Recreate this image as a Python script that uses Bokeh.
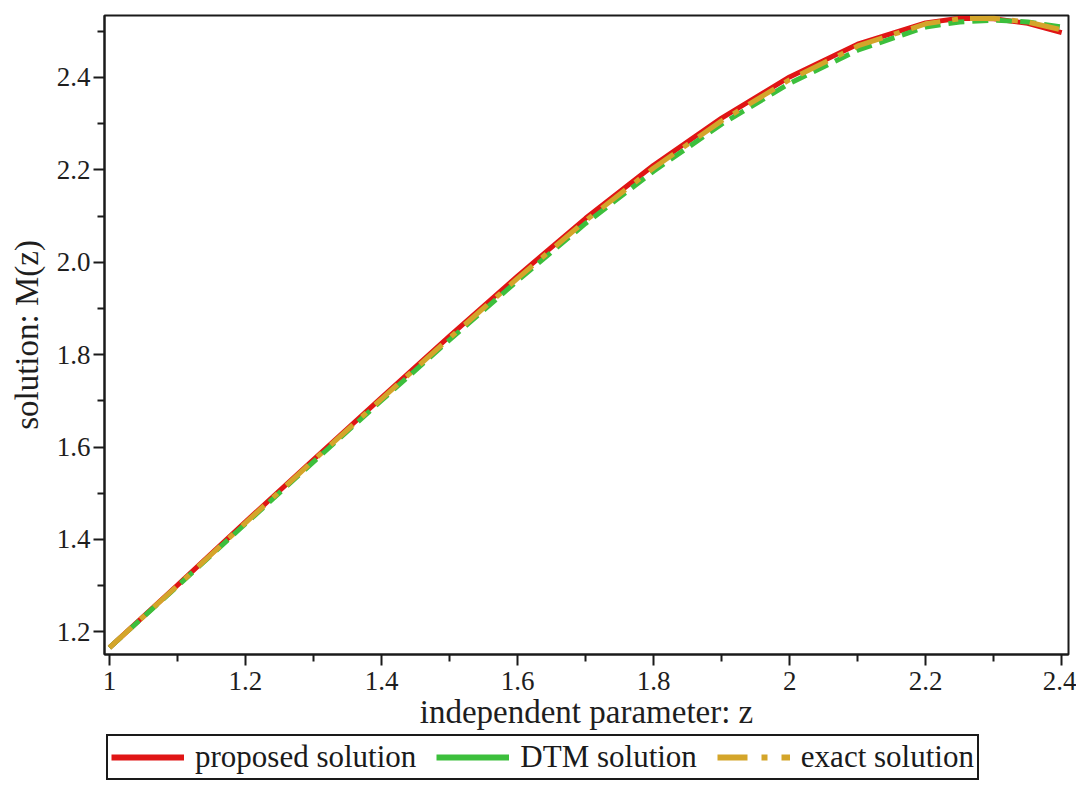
from bokeh.plotting import figure
from bokeh.layouts import column
from bokeh.models import Range1d, FixedTicker, Legend, LegendItem, ColumnDataSource
from bokeh.embed import file_html
from bokeh.resources import INLINE

# ---- data ----
z = [1.0, 1.1, 1.2, 1.3, 1.4, 1.5, 1.6, 1.7, 1.8, 1.9, 2.0, 2.1, 2.2, 2.25, 2.3, 2.35, 2.4]
proposed = [1.166, 1.301, 1.438, 1.573, 1.707, 1.840, 1.970, 2.095, 2.210, 2.312, 2.401, 2.472, 2.518, 2.528, 2.527, 2.517, 2.497]
dtm = [1.166, 1.299, 1.434, 1.568, 1.701, 1.832, 1.960, 2.084, 2.197, 2.299, 2.387, 2.459, 2.509, 2.520, 2.524, 2.520, 2.509]
exact = [1.166, 1.300, 1.436, 1.571, 1.704, 1.836, 1.965, 2.090, 2.204, 2.306, 2.395, 2.468, 2.516, 2.527, 2.528, 2.520, 2.503]

x_ticks = [1.0, 1.2, 1.4, 1.6, 1.8, 2.0, 2.2, 2.4]
x_minor = [1.1, 1.3, 1.5, 1.7, 1.9, 2.1, 2.3]
x_tick_labels = ["1", "1.2", "1.4", "1.6", "1.8", "2", "2.2", "2.4"]
y_ticks = [1.2, 1.4, 1.6, 1.8, 2.0, 2.2, 2.4]
y_minor = [1.3, 1.5, 1.7, 1.9, 2.1, 2.3, 2.5]
y_tick_labels = ["1.2", "1.4", "1.6", "1.8", "2.0", "2.2", "2.4"]

series_names = ["proposed solution", "DTM solution", "exact solution"]
RED = "#e01515"
GREEN = "#3cbf3c"
GOLD = "#d4a52a"
FONT = "Liberation Serif"
INK = "#1a1a1a"

p = figure(width=1076, height=732, output_backend="svg", toolbar_location=None,
           x_range=Range1d(0.9927, 2.410), y_range=Range1d(1.151, 2.534),
           min_border_left=103, min_border_top=15, min_border_right=8, min_border_bottom=70,
           background_fill_color="white", border_fill_color="white")

p.xgrid.visible = False
p.ygrid.visible = False
p.outline_line_color = INK
p.outline_line_width = 2
p.outline_line_alpha = 1.0

src = ColumnDataSource(dict(z=z, proposed=proposed, dtm=dtm, exact=exact))
p.line("z", "proposed", source=src, line_color=RED, line_width=5)
p.line("z", "dtm", source=src, line_color=GREEN, line_width=5, line_dash="16 8")
p.line("z", "exact", source=src, line_color=GOLD, line_width=5, line_dash="30 12 6 12")

for ax in (p.xaxis[0], p.yaxis[0]):
    ax.axis_line_width = 2
    ax.axis_line_color = INK
    ax.major_tick_line_color = INK
    ax.minor_tick_line_color = INK
    ax.major_tick_line_width = 2
    ax.minor_tick_line_width = 2
    ax.major_tick_in = 0
    ax.major_tick_out = 11
    ax.minor_tick_in = 0
    ax.minor_tick_out = 7
    ax.major_label_text_font = FONT
    ax.major_label_text_font_size = "27px"
    ax.major_label_text_color = "#1e1e1e"
    ax.axis_label_text_font = FONT
    ax.axis_label_text_font_style = "normal"
    ax.axis_label_text_color = "#1e1e1e"
    ax.axis_label_text_font_size = "33px"

p.xaxis.ticker = FixedTicker(ticks=x_ticks, minor_ticks=x_minor)
p.yaxis.ticker = FixedTicker(ticks=y_ticks, minor_ticks=y_minor)
p.xaxis.major_label_overrides = {t: s for t, s in zip(x_ticks, x_tick_labels)}
p.yaxis.major_label_overrides = {t: s for t, s in zip(y_ticks, y_tick_labels)}
p.xaxis.axis_label = "independent parameter: z"
p.yaxis.axis_label = "solution: M(z)"
p.xaxis.major_label_standoff = 6
p.xaxis.axis_label_standoff = 1
p.yaxis.major_label_standoff = 3
p.yaxis.axis_label_standoff = 9

# ---- legend strip below the plot ----
lf = figure(width=1076, height=48, output_backend="svg", toolbar_location=None,
            x_range=Range1d(0, 1), y_range=Range1d(0, 1),
            x_axis_location=None, y_axis_location=None,
            min_border_left=104, min_border_right=0, min_border_top=0, min_border_bottom=0,
            background_fill_color="white", border_fill_color="white")
lf.xgrid.visible = False
lf.ygrid.visible = False
lf.outline_line_color = None

nan = float("nan")
empty = ColumnDataSource(dict(x=[nan], y=[nan]))
r1 = lf.line("x", "y", source=empty, line_color=RED, line_width=6)
r2 = lf.line("x", "y", source=empty, line_color=GREEN, line_width=6)
r3 = lf.line("x", "y", source=empty, line_color=GOLD, line_width=6, line_dash="30 14 6 14")

legend = Legend(items=[LegendItem(label=series_names[0], renderers=[r1]),
                       LegendItem(label=series_names[1], renderers=[r2]),
                       LegendItem(label=series_names[2], renderers=[r3])],
                orientation="horizontal", location="top_left",
                label_text_font=FONT, label_text_font_size="31px", label_text_color=INK,
                glyph_width=73, glyph_height=30, label_standoff=11, spacing=20,
                padding=3, margin=2, border_line_color=INK, border_line_width=2,
                border_line_alpha=1.0,
                label_height=30, background_fill_color="white", background_fill_alpha=1.0)
lf.add_layout(legend, "center")

layout = column(p, lf, spacing=0)
open("out.html", "w").write(file_html(layout, INLINE))
